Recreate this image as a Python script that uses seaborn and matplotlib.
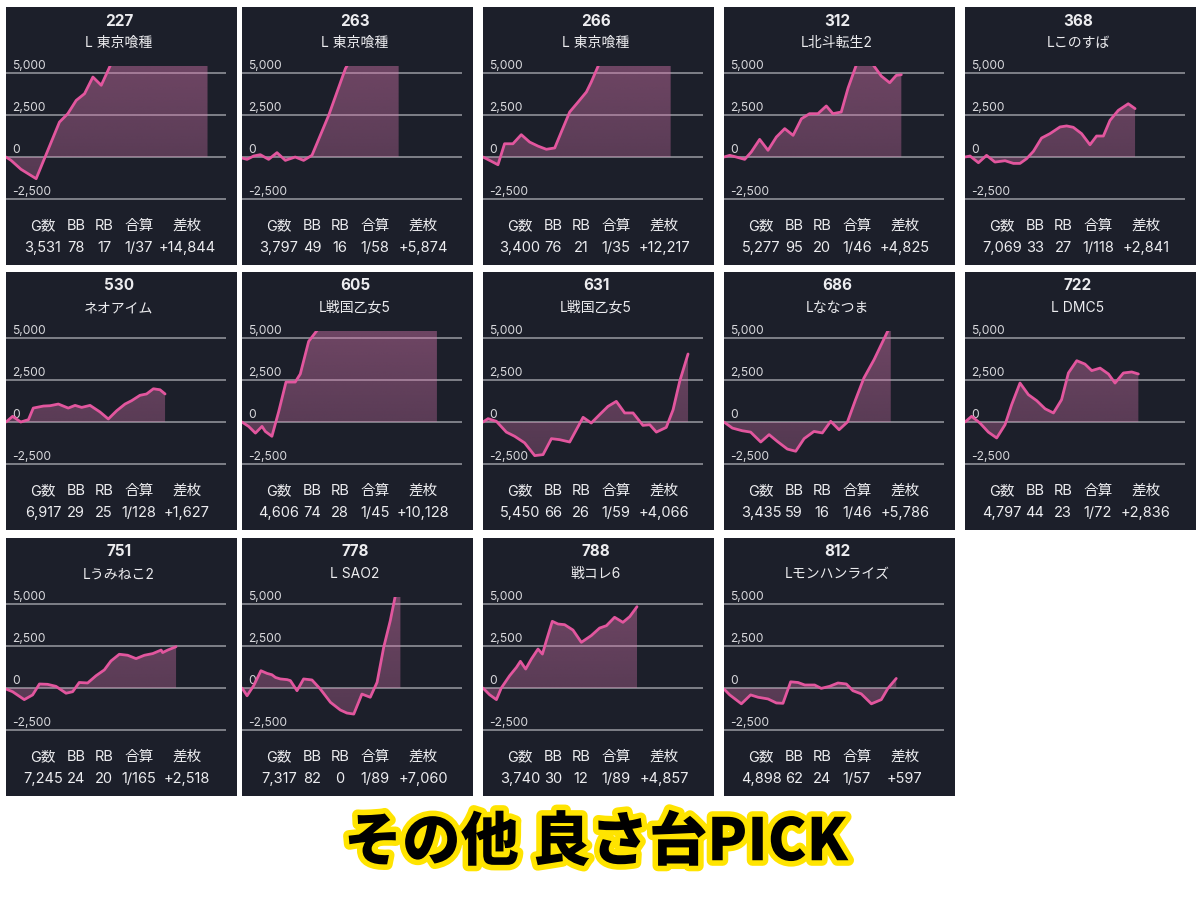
import numpy as np
import matplotlib
matplotlib.use("Agg")
import matplotlib.pyplot as plt
import matplotlib.patheffects as pe
from matplotlib.colors import LinearSegmentedColormap, to_rgb
from matplotlib.patches import Rectangle
import seaborn as sns

# ---- panel info ----
machine_no = ["227", "263", "266", "312", "368",
              "530", "605", "631", "686", "722",
              "751", "778", "788", "812"]
machine_name = ["L 東京喰種", "L 東京喰種", "L 東京喰種", "L北斗転生2", "Lこのすば",
                "ネオアイム", "L戦国乙女5", "L戦国乙女5", "Lななつま", "L DMC5",
                "Lうみねこ2", "L SAO2", "戦コレ6", "Lモンハンライズ"]
games = [3531, 3797, 3400, 5277, 7069, 6917, 4606, 5450, 3435, 4797, 7245, 7317, 3740, 4898]
bb = [78, 49, 76, 95, 33, 29, 74, 66, 59, 44, 24, 82, 30, 62]
rb = [17, 16, 21, 20, 27, 25, 28, 26, 16, 23, 20, 0, 12, 24]
combined = ["1/37", "1/58", "1/35", "1/46", "1/118", "1/128", "1/45", "1/59",
            "1/46", "1/72", "1/165", "1/89", "1/89", "1/57"]
diff = [14844, 5874, 12217, 4825, 2841, 1627, 10128, 4066, 5786, 2836, 2518, 7060, 4857, 597]

stat_headers = ["G数", "BB", "RB", "合算", "差枚"]
grid_levels = [5000, 2500, 0, -2500]

# ---- slump curves (x = % of timeline, y = 差枚) ----
x_227 = [0, 2.3, 6.8, 13.7, 24.3, 28.1, 31.9, 35.7, 39.5, 43.3, 47.1, 50.9, 60.0, 69.1, 78.3, 84.3, 91.6]
y_227 = [0, -200, -730, -1290, 2080, 2580, 3370, 3770, 4760, 4270, 5360, 6500, 8500, 10000, 12000, 13500, 14844]

x_263 = [0, 2.3, 5.3, 8.3, 12.1, 15.9, 19.7, 24.2, 28.0, 31.8, 39.4, 47.0, 51.5, 57.6, 63.6, 71.2]
y_263 = [-60, -140, 60, 140, -140, 260, -200, 0, -200, 100, 2480, 5260, 6300, 6800, 6200, 5874]

x_266 = [0, 3.0, 6.8, 9.8, 13.6, 17.4, 21.2, 25.0, 28.8, 32.6, 35.6, 39.4, 43.2, 47.0, 49.2, 52.3, 59.8, 68.9, 78.0, 85.3]
y_266 = [0, -200, -460, 790, 790, 1330, 890, 650, 460, 540, 1490, 2680, 3270, 3870, 4460, 5400, 7500, 9500, 11000, 12217]

x_312 = [0, 2.6, 5.6, 9.4, 12.4, 16.2, 20.0, 23.8, 27.6, 31.4, 35.2, 38.9, 42.7, 46.5, 49.5, 53.3,
         56.4, 60.2, 63.9, 67.7, 71.5, 75.3, 78.3, 80.6]
y_312 = [0, 100, 0, -140, 300, 1050, 400, 1190, 1690, 1290, 2280, 2580, 2580, 3040, 2580, 2680,
         4110, 5500, 5650, 5500, 4820, 4420, 4860, 4900]

x_368 = [0, 2.3, 6.1, 9.8, 13.6, 18.2, 22.0, 25.0, 28.0, 31.1, 34.8, 38.6, 43.2, 46.2, 49.2, 53.0,
         56.8, 59.8, 62.9, 65.9, 69.7, 74.2, 77.3]
y_368 = [0, 60, -340, 100, -300, -220, -380, -380, -100, 340, 1130, 1390, 1790, 1850, 1770, 1390,
         730, 1250, 1250, 2180, 2780, 3170, 2880]

x_530 = [0, 3.0, 6.7, 10.2, 12.4, 17.0, 20.0, 23.8, 28.3, 31.4, 34.4, 38.2, 42.7, 46.5, 50.3, 54.1,
         57.1, 60.9, 63.9, 67.0, 70.0, 72.3]
y_530 = [0, 340, 0, 140, 830, 950, 970, 1070, 830, 990, 870, 990, 600, 180, 670, 1070,
         1270, 1590, 1670, 1980, 1920, 1670]

x_605 = [0, 3.0, 6.1, 9.1, 10.6, 13.6, 16.7, 20.0, 24.2, 26.5, 30.3, 34.1, 39.4, 54.5, 69.7, 88.6]
y_605 = [0, -260, -660, -260, -560, -850, 630, 2380, 2380, 2860, 4800, 5450, 7000, 8500, 9500, 10128]

x_631 = [0, 2.3, 6.1, 10.6, 14.4, 18.9, 23.5, 27.3, 31.1, 34.8, 39.4, 45.5, 49.2, 53.0, 56.8, 60.6,
         64.4, 68.2, 72.7, 75.8, 78.8, 83.3, 86.4, 89.4, 93.2]
y_631 = [0, 200, 40, -600, -850, -1240, -2000, -1940, -990, -1050, -1190, 280, -60, 440, 930, 1230,
         540, 540, -200, -160, -600, -320, 730, 2420, 4050]

x_686 = [0, 3.8, 8.3, 12.1, 16.7, 20.5, 24.2, 28.8, 32.6, 36.4, 40.9, 44.7, 48.5, 52.3, 56.1, 59.8,
         63.6, 68.2, 75.8]
y_686 = [0, -360, -520, -600, -1190, -750, -1150, -1610, -1740, -990, -560, -650, 40, -460, 0, 1330,
         2620, 3710, 5786]

x_722 = [0, 3.0, 6.8, 10.6, 14.4, 18.2, 21.2, 25.0, 28.8, 32.6, 36.4, 40.2, 43.9, 47.0, 50.8, 54.5,
         57.6, 61.4, 65.2, 68.2, 72.0, 75.8, 78.8]
y_722 = [0, 340, -60, -600, -950, -160, 1030, 2320, 1630, 1270, 790, 540, 1330, 2920, 3650, 3450,
         3060, 3210, 2860, 2320, 2920, 2980, 2860]

x_751 = [0, 3.0, 8.3, 12.1, 15.2, 18.9, 22.7, 27.3, 30.3, 33.3, 37.1, 40.9, 44.7, 47.7, 51.5, 55.3,
         59.1, 62.9, 66.7, 70.5, 71.2, 73.5, 77.3]
y_751 = [-60, -220, -690, -410, 240, 220, 100, -310, -220, 330, 300, 730, 1080, 1610, 2010, 1950,
         1750, 1950, 2050, 2260, 2110, 2260, 2460]

x_778 = [0, 2.3, 5.3, 8.6, 11.4, 13.6, 15.2, 17.4, 20.5, 22.0, 25.0, 28.0, 31.8, 35.6, 40.2, 44.7,
         47.7, 50.8, 54.5, 58.3, 61.4, 64.4, 67.4, 69.7, 72.0]
y_778 = [0, -460, 140, 1030, 870, 790, 630, 540, 500, 440, -160, 540, 480, -60, -850, -1310,
         -1490, -1550, -360, -550, 340, 2420, 4010, 5500, 7060]

x_788 = [0, 3.0, 6.1, 8.3, 12.1, 15.2, 17.0, 19.4, 22.0, 25.0, 27.0, 28.8, 31.5, 34.1, 37.1, 40.9,
         44.7, 49.2, 53.0, 56.1, 59.8, 63.6, 66.7, 70.0]
y_788 = [0, -400, -690, 0, 730, 1230, 1590, 1130, 1730, 2320, 2020, 2820, 3970, 3810, 3770, 3450,
         2720, 3120, 3570, 3710, 4210, 3910, 4250, 4840]

x_812 = [0, 2.6, 7.9, 12.1, 15.5, 20.0, 23.8, 26.8, 30.3, 33.6, 36.7, 41.2, 44.2, 48.0, 51.8, 55.6,
         58.6, 62.4, 67.0, 71.5, 74.5, 78.3]
y_812 = [-60, -410, -940, -410, -550, -650, -890, -910, 370, 330, 180, 180, -20, 100, 300, 240,
         -160, -350, -940, -690, -20, 570]

curves = [(x_227, y_227), (x_263, y_263), (x_266, y_266), (x_312, y_312), (x_368, y_368),
          (x_530, y_530), (x_605, y_605), (x_631, y_631), (x_686, y_686), (x_722, y_722),
          (x_751, y_751), (x_778, y_778), (x_788, y_788), (x_812, y_812)]

# ---- style ----
PANEL = "#1c1f2a"
LINE = "#e2569e"
FILL = "#d877ae"
GRID = "#8f9198"
TEXT = "#ececef"

sns.set_theme(style="dark")
plt.rcParams["font.family"] = ["Inter", "Noto Sans CJK JP", "DejaVu Sans"]

W, H = 1200, 901
fig = plt.figure(figsize=(12, 9.01), dpi=100, facecolor="white")

col_left = [6, 242, 483, 724, 965]
row_top = [7, 272, 538]
panel_w, panel_h = 231, 258
stat_cols = [37, 70, 98, 133, 181]


def box(left, top, w, h):
    return [left / W, 1 - (top + h) / H, w / W, h / H]


def ftext(px, py, s, **kw):
    fig.text(px / W, 1 - py / H, s, ha="center", va="center", color=TEXT, **kw)


rgb = to_rgb(FILL)
fill_cmap = LinearSegmentedColormap.from_list("fill", [(*rgb, 0.28), (*rgb, 0.44)])
grad = np.linspace(1, 0, 256).reshape(-1, 1)

for i, (xs, ys) in enumerate(curves):
    r, c = divmod(i, 5)
    left, top = col_left[c], row_top[r]
    fig.add_artist(Rectangle((left / W, 1 - (top + panel_h) / H), panel_w / W, panel_h / H,
                             transform=fig.transFigure, facecolor=PANEL, edgecolor="none", zorder=0))

    ax = fig.add_axes(box(left, top + 59.3, 220, 134.4))
    ax.axis("off")
    for lv in grid_levels:
        ax.axhline(lv, color=GRID, lw=1.2, zorder=1)
        ax.annotate(f"{lv:,}", xy=(0, lv), xycoords=("axes fraction", "data"),
                    xytext=(6, 4), textcoords="offset pixels", ha="left", va="baseline",
                    fontsize=8.7, color="#d8d8dc")

    poly = ax.fill_between(xs, ys, 0, color="none", lw=0)
    im = ax.imshow(grad, extent=[0, 100, -2600, 5400], aspect="auto", cmap=fill_cmap,
                   origin="upper", zorder=2, interpolation="bicubic")
    im.set_clip_path(poly.get_paths()[0], ax.transData)
    sns.lineplot(x=xs, y=ys, ax=ax, color=LINE, linewidth=2.0, zorder=3,
                 estimator=None, sort=False, solid_joinstyle="round")
    ax.set_xlim(0, 100)
    ax.set_ylim(-2600, 5400)

    ftext(left + 113, top + 14, machine_no[i], fontsize=11, fontweight="bold")
    ftext(left + 113, top + 36, machine_name[i], fontsize=10)
    vals = [f"{games[i]:,}", str(bb[i]), str(rb[i]), combined[i], f"+{diff[i]:,}"]
    for cx, hdr, v in zip(stat_cols, stat_headers, vals):
        ftext(left + cx, top + 219, hdr, fontsize=10.5)
        ftext(left + cx, top + 241, v, fontsize=10.5)

fig.text(596 / W, 1 - 843 / H, "その他 良さ台PICK", ha="center", va="center",
         fontsize=42, fontweight="black", color="black",
         family=["Noto Sans CJK JP", "DejaVu Sans"],
         path_effects=[pe.withStroke(linewidth=8, foreground="#ffe400")])

fig.savefig("out.png", dpi=100, facecolor="white")
